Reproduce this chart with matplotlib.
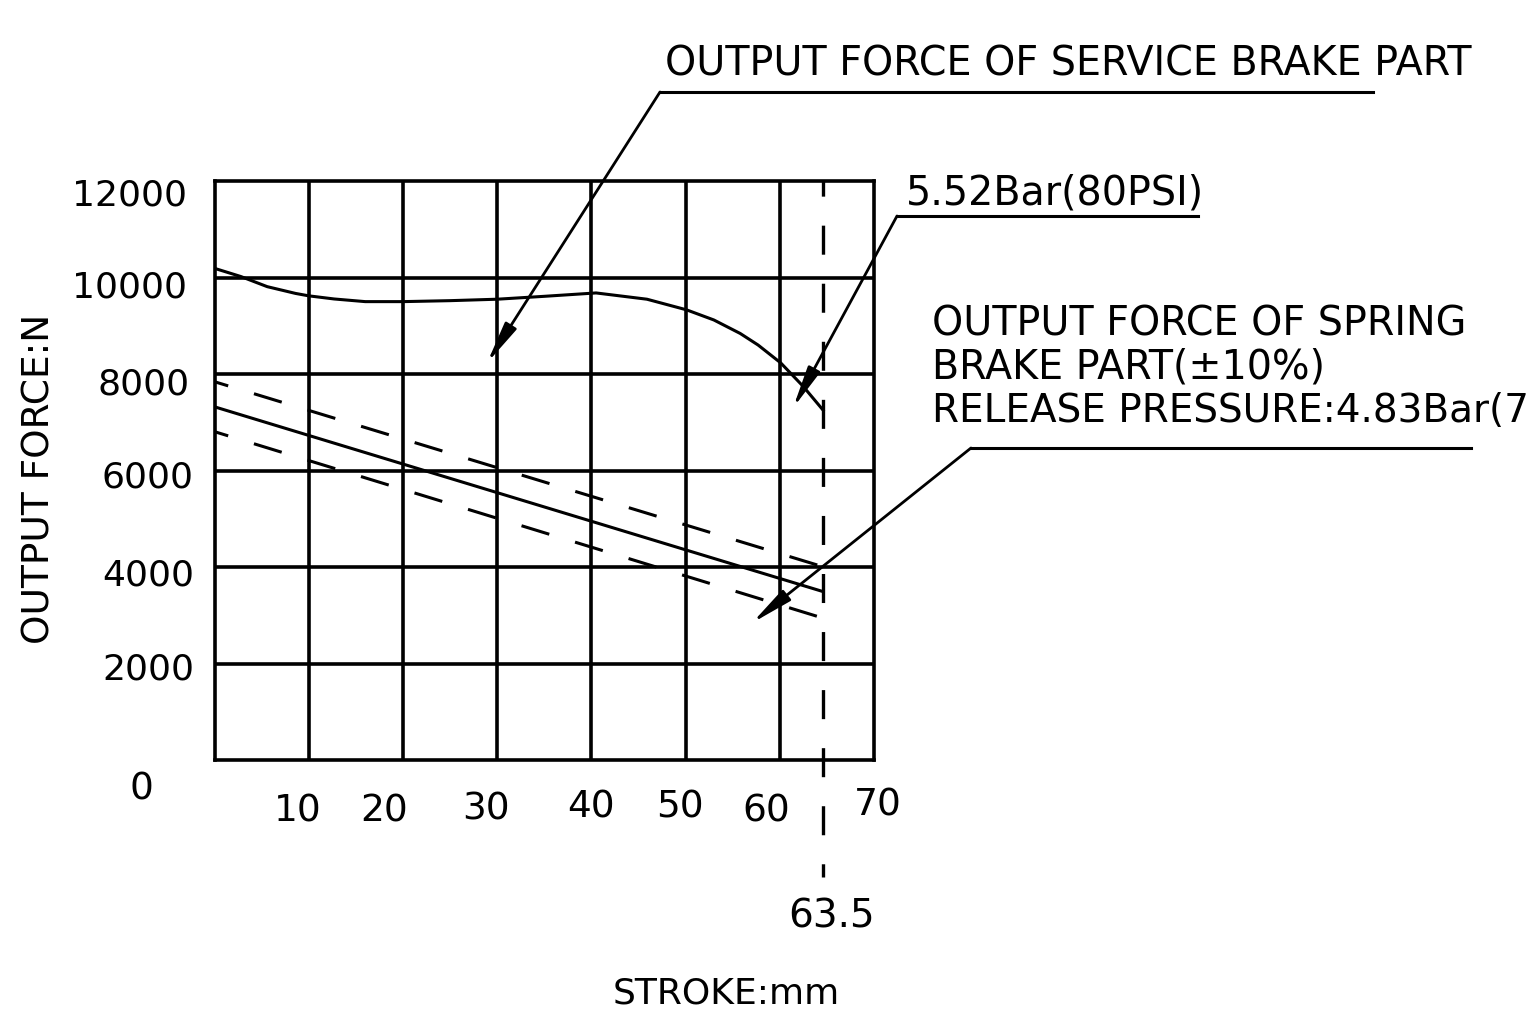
import matplotlib
matplotlib.use("Agg")
import matplotlib.pyplot as plt
from matplotlib.lines import Line2D
from matplotlib.patches import FancyArrowPatch

plt.rcParams['font.family'] = ['DejaVu Sans']
plt.rcParams['lines.scale_dashes'] = False

# ---------------- data ----------------
x_ticks = [10, 20, 30, 40, 50, 60, 70]
x_tick_labels = ["10", "20", "30", "40", "50", "60", "70"]
y_ticks = [2000, 4000, 6000, 8000, 10000, 12000]
y_tick_labels = ["2000", "4000", "6000", "8000", "10000", "12000"]

stroke_end = 64.6          # drawn position of the full-stroke marker
stroke_end_label = "63.5"

service_x = [0, 2.8, 5.6, 8.6, 10, 12.7, 16, 20, 25, 30, 35, 40.5, 45.9, 50.1, 53, 55.8, 57.7, 60.1, 62.5, 64.6]
service_y = [10190, 10020, 9810, 9670, 9620, 9555, 9500, 9500, 9520, 9550, 9610, 9680, 9550, 9330, 9120, 8840, 8600, 8230, 7740, 7250]

spring_x = [0, 64.6]
spring_nominal = [7320, 3490]
spring_upper = [7840, 4005]
spring_lower = [6805, 2940]

# ---------------- figure ----------------
W, H = 1528, 1034
fig = plt.figure(figsize=(W / 100, H / 100), dpi=100)
fig.patch.set_facecolor('white')

def fx(x):
    return x / W

def fy(y):
    return 1 - y / H

def P(x, y):
    return (x, H - y)

left, right, top, bottom = 214.5, 874, 181, 760
ax = fig.add_axes([fx(left), fy(bottom), (right - left) / W, (bottom - top) / H])
ax.set_xlim(0, 70)
ax.set_ylim(0, 12000)
ax.set_xticks(x_ticks[:-1])
ax.set_yticks(y_ticks[:-1])
ax.tick_params(length=0, labelbottom=False, labelleft=False)
ax.grid(True, color='black', lw=2.6)
for s in ax.spines.values():
    s.set_linewidth(2.6)
    s.set_color('black')
ax.set_axisbelow(True)

LW = 2.2
ax.plot(service_x, service_y, color='black', lw=LW, zorder=3)
ax.plot(spring_x, spring_nominal, color='black', lw=LW, zorder=3)
ax.plot(spring_x, spring_upper, color='black', lw=LW, zorder=3,
        linestyle=(10.6, (20.9, 19.4)))
ax.plot(spring_x, spring_lower, color='black', lw=LW, zorder=3,
        linestyle=(10.6, (20.9, 19.4)))

# vertical dashed marker at full stroke, extending below axes
ax.plot([stroke_end, stroke_end], [12000, -2425], color='black', lw=2.4,
        linestyle=(10, (20.9, 20.9)), clip_on=False, zorder=3)

# ---------------- tick labels ----------------
FS_TICK = 27
xlab_pos = [(298, 821), (384, 821), (486, 819), (591, 817), (680, 817), (766, 821), (878, 816)]
for lab, (px, py) in zip(x_tick_labels, xlab_pos):
    fig.text(fx(px), fy(py), lab, ha='center', va='baseline', fontsize=FS_TICK)
fig.text(fx(141), fy(799), "0", ha='center', va='baseline', fontsize=FS_TICK)

ylab_pos = [(194, 680), (194, 586), (194, 488), (190, 395), (187, 298), (187, 206)]
for lab, (px, py) in zip(y_tick_labels, ylab_pos):
    fig.text(fx(px), fy(py), lab, ha='right', va='baseline', fontsize=26)

fig.text(fx(832), fy(927), stroke_end_label, ha='center', va='baseline', fontsize=28)
fig.text(fx(726), fy(1003), "STROKE:mm", ha='center', va='baseline', fontsize=26)
fig.text(fx(40), fy(479), "OUTPUT FORCE:N", ha='center', va='center',
         rotation=90, fontsize=27)

# ---------------- annotations ----------------
FS_ANN = 28.5
fig.text(fx(665), fy(75), "OUTPUT FORCE OF SERVICE BRAKE PART", ha='left',
         va='baseline', fontsize=FS_ANN)
fig.text(fx(906), fy(205), "5.52Bar(80PSI)", ha='left', va='baseline', fontsize=FS_ANN)
fig.text(fx(932), fy(335), "OUTPUT FORCE OF SPRING", ha='left', va='baseline', fontsize=FS_ANN)
fig.text(fx(932), fy(378), "BRAKE PART(\u00b110%)", ha='left', va='baseline', fontsize=FS_ANN)
fig.text(fx(932), fy(422), "RELEASE PRESSURE:4.83Bar(70PSI)", ha='left',
         va='baseline', fontsize=28)

def hline(x0, x1, y):
    fig.add_artist(Line2D([fx(x0), fx(x1)], [fy(y), fy(y)], color='black',
                          lw=2.2, transform=fig.transFigure))

hline(660, 1373, 92)
hline(897, 1198, 216)
hline(971, 1471, 448)

arrow_style = dict(arrowstyle='-|>,head_length=1.4,head_width=0.22',
                   mutation_scale=18, lw=2.0, color='black',
                   shrinkA=0, shrinkB=0)
fig.add_artist(FancyArrowPatch(posA=P(660, 92), posB=P(487, 363),
                               transform=None, **arrow_style))
fig.add_artist(FancyArrowPatch(posA=P(897, 216), posB=P(793, 408),
                               transform=None, **arrow_style))
fig.add_artist(FancyArrowPatch(posA=P(971, 448), posB=P(752, 623),
                               transform=None, **arrow_style))

fig.savefig("out.png", dpi=100, facecolor='white')
